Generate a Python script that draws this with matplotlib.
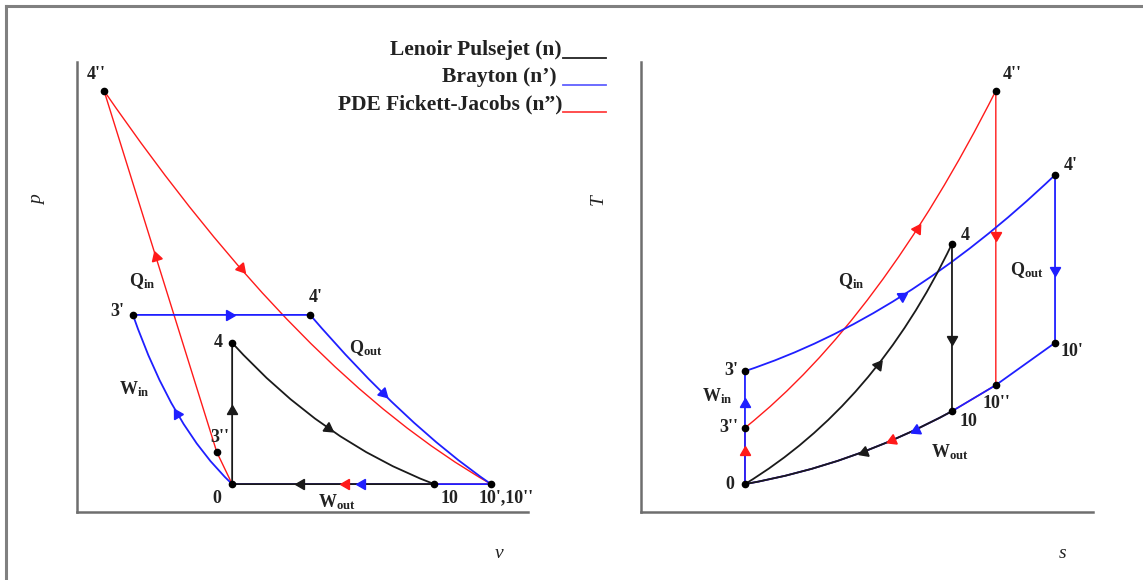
import numpy as np
import matplotlib.pyplot as plt
from matplotlib.path import Path
from matplotlib.patches import PathPatch
from matplotlib.lines import Line2D

plt.rcParams['font.family'] = 'Liberation Serif'
plt.rcParams['mathtext.fontset'] = 'custom'
plt.rcParams['mathtext.rm'] = 'Liberation Serif'
plt.rcParams['mathtext.bf'] = 'Liberation Serif:bold'
plt.rcParams['mathtext.it'] = 'Liberation Serif:italic'

# state points on the p-v diagram
pv_names = ['0', "3''", "3'", "4''", "4'", '4', '10', "10'"]
pv_v = [3.44, 3.10, 1.24, 0.60, 5.17, 3.44, 7.92, 9.18]
pv_p = [0.62, 1.33, 4.38, 9.36, 4.38, 3.76, 0.62, 0.62]
pv_text = ['0', "3''", "3'", "4''", "4'", '4', '10', "10',10''"]

# state points on the T-s diagram
ts_names = ['0', "3''", "3'", "4''", "4'", '4', '10', "10''", "10'"]
ts_s = [2.30, 2.30, 2.30, 7.85, 9.16, 6.88, 6.88, 7.85, 9.16]
ts_T = [0.62, 1.87, 3.13, 9.36, 7.49, 5.96, 2.24, 2.82, 3.76]

# control points of the curved processes (quadratic Bezier)
pv_ctrl = {('4', '10'): (5.43, 1.56),
           ('0', "3'"): (2.11, 1.87),
           ("4'", "10'"): (7.27, 1.93),
           ("4''", "10'"): (4.94, 3.04)}
ts_ctrl = {('0', '4'): (5.18, 2.38),
           ('10', '0'): (4.69, 1.04),
           ("3'", "4'"): (5.84, 4.31),
           ("3''", "4''"): (5.29, 4.27)}

# cycle paths: (from, to, arrow position along the process or None)
pv_cycles = {
    'red': [('0', "3''", None), ("3''", "4''", 0.54), ("4''", "10'", 0.35), ("10'", '0', 0.56)],
    'blue': [('0', "3'", 0.5), ("3'", "4'", 0.54), ("4'", "10'", 0.39), ("10'", '0', 0.5)],
    'black': [('0', '4', 0.52), ('4', '10', 0.5), ('10', '0', 0.66)],
}
ts_cycles = {
    'red': [('0', "3''", 0.57), ("3''", "4''", 0.67), ("4''", "10''", 0.49),
            ("10''", '10', None), ('10', '0', 0.30)],
    'blue': [('0', "3'", 0.71), ("3'", "4'", 0.5), ("4'", "10'", 0.565),
             ("10'", "10''", None), ("10''", '10', None), ('10', '0', 0.18)],
    'black': [('0', '4', 0.58), ('4', '10', 0.57), ('10', '0', 0.435)],
}

colors = {'red': '#ff1a1a', 'blue': '#1f1fff', 'black': '#1a1a1a'}
widths = {'red': 1.0, 'blue': 1.3, 'black': 1.3}


def bez(p0, c, p2, t):
    p0, c, p2 = np.array(p0), np.array(c), np.array(p2)
    pt = (1 - t) ** 2 * p0 + 2 * t * (1 - t) * c + t ** 2 * p2
    d = 2 * (1 - t) * (c - p0) + 2 * t * (p2 - c)
    return pt, d


def draw_cycles(ax, pts, ctrl, cycles):
    for name in ['red', 'blue', 'black']:
        col = colors[name]
        for a, b, t in cycles[name]:
            p0, p2 = pts[a], pts[b]
            c = ctrl.get((a, b))
            if c is None:
                c = ((p0[0] + p2[0]) / 2, (p0[1] + p2[1]) / 2)
            path = Path([p0, c, p2], [Path.MOVETO, Path.CURVE3, Path.CURVE3])
            ax.add_patch(PathPatch(path, fill=False, ec=col, lw=widths[name], zorder=2))
            if t is None:
                continue
            pt, d = bez(p0, c, p2, t)
            q0 = ax.transData.transform(pt)
            q1 = ax.transData.transform(pt + 0.01 * d)
            ang = np.degrees(np.arctan2(q1[1] - q0[1], q1[0] - q0[0]))
            ax.plot(pt[0], pt[1], marker=(3, 0, ang - 90), ms=8.5, color=col,
                    lw=0, zorder=4)


fig = plt.figure(figsize=(11.43, 5.8), dpi=100)
W, H = 1143, 580


def axes_px(x0, x1, y0, y1):
    return fig.add_axes([x0 / W, (H - y1) / H, (x1 - x0) / W, (y1 - y0) / H])


ax1 = axes_px(77, 528, 62, 512)
ax2 = axes_px(641, 1093, 62, 512)
for ax in (ax1, ax2):
    ax.set_xlim(0, 10)
    ax.set_ylim(0, 10)
    ax.set_xticks([])
    ax.set_yticks([])
    ax.spines['top'].set_visible(False)
    ax.spines['right'].set_visible(False)
    for s in ('left', 'bottom'):
        ax.spines[s].set_color('#6e6e6e')
        ax.spines[s].set_linewidth(1.8)
    ax.patch.set_alpha(0)

pv_pts = dict(zip(pv_names, zip(pv_v, pv_p)))
ts_pts = dict(zip(ts_names, zip(ts_s, ts_T)))

draw_cycles(ax1, pv_pts, pv_ctrl, pv_cycles)
draw_cycles(ax2, ts_pts, ts_ctrl, ts_cycles)

ax1.plot(pv_v, pv_p, 'o', color='black', ms=4.5, zorder=5)
ax2.plot(ts_s, ts_T, 'o', color='black', ms=4.5, zorder=5)

lab = dict(fontsize=13, fontweight='bold', color='#222222', textcoords='offset pixels',
           ha='center', va='center')

pv_off = {'0': (-15, -14), "3''": (3, 15), "3'": (-16, 3), "4''": (-8, 16),
          "4'": (6, 17), '4': (-14, 0), '10': (15, -14), "10'": (15, -14)}
for n, txt in zip(pv_names, pv_text):
    ax1.annotate(txt, pv_pts[n], xytext=pv_off[n], **lab)

ts_off = {'0': (-15, 0), "3''": (-16, 0), "3'": (-14, 1), "4''": (16, 16),
          "4'": (16, 9), '4': (13, 8), '10': (16, -10), "10''": (1, -18), "10'": (17, -9)}
for n in ts_names:
    ax2.annotate(n, ts_pts[n], xytext=ts_off[n], **lab)

proc = dict(fontsize=13, color='#222222', ha='center', va='center')
ax1.text(1.44, 5.13, r'$\mathbf{Q}_{\mathbf{in}}$', **proc)
ax1.text(1.26, 2.73, r'$\mathbf{W}_{\mathbf{in}}$', **proc)
ax1.text(6.41, 3.64, r'$\mathbf{Q}_{\mathbf{out}}$', **proc)
ax1.text(5.76, 0.22, r'$\mathbf{W}_{\mathbf{out}}$', **proc)
ax2.text(4.65, 5.13, r'$\mathbf{Q}_{\mathbf{in}}$', **proc)
ax2.text(1.68, 2.58, r'$\mathbf{W}_{\mathbf{in}}$', **proc)
ax2.text(8.54, 5.38, r'$\mathbf{Q}_{\mathbf{out}}$', **proc)
ax2.text(6.84, 1.33, r'$\mathbf{W}_{\mathbf{out}}$', **proc)

# axis names
ax_lab = dict(fontsize=14, fontstyle='italic', color='#222222', ha='center', va='center')
fig.text(38 / W, 1 - 200 / H, 'p', rotation=90, **ax_lab)
fig.text(499 / W, 1 - 553 / H, 'v', **ax_lab)
fig.text(598 / W, 1 - 200 / H, 'T', rotation=90, **ax_lab)
fig.text(1063 / W, 1 - 553 / H, 's', **ax_lab)

# legend
leg_names = ['Lenoir Pulsejet (n)', 'Brayton (n\u2019) ', 'PDE Fickett-Jacobs (n\u201d)']
leg_colors = ['#222222', '#6060ff', '#ff4040']
for i, (txt, col) in enumerate(zip(leg_names, leg_colors)):
    yc = 50 + 27 * i
    fig.text(562 / W, 1 - yc / H, txt, fontsize=15.5, fontweight='bold', color='#222222',
             ha='right', va='center')
    yl = 1 - (yc + 8) / H
    fig.add_artist(Line2D([563 / W, 606 / W], [yl, yl], color=col, lw=1.3))

# outer frame
fig.add_artist(Line2D([6 / W, 1], [1 - 6 / H, 1 - 6 / H], color='#808080', lw=2.2))
fig.add_artist(Line2D([6 / W, 6 / W], [0, 1 - 6 / H], color='#808080', lw=2.2))

fig.savefig('out.png', dpi=100)
